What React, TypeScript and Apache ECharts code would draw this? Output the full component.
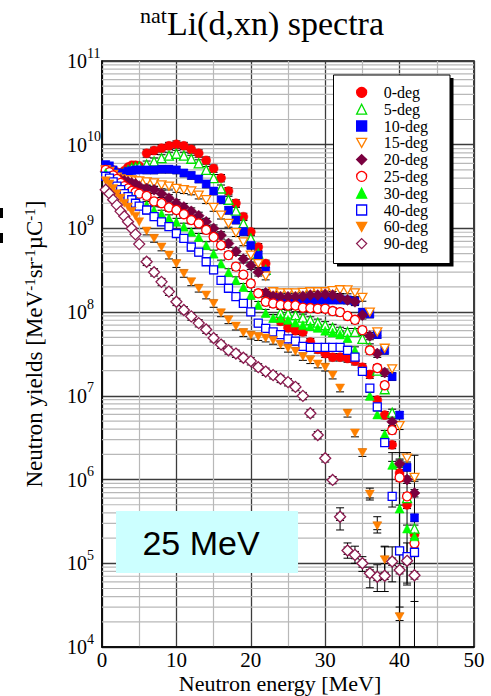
import React, { useEffect, useRef } from "react";
import * as echarts from "echarts";

// ---------- data ----------
const ENERGY = [0.5, 1, 1.5, 2, 2.5, 3, 3.5, 4, 4.5, 5, 6, 7, 8, 9, 10, 11, 12, 13, 14, 15, 16, 17, 18, 19, 20, 21, 22, 23, 24, 25, 26, 27, 28, 29, 30, 31, 32, 33, 34, 35, 36, 37, 38, 39, 40, 41, 42];

const DEG0 = [5.5e9, 5.3e9, 5.0e9, 4.7e9, 4.6e9, 4.9e9, 5.4e9, 5.7e9, 5.7e9, 5.6e9,
  7.9e9, 8.5e9, 9.1e9, 9.7e9, 1.01e10, 9.7e9, 8.8e9, 7.9e9, 6.5e9, 5.2e9,
  4.0e9, 2.8e9, 2.0e9, 1.38e9, 9.1e8, 6.0e8, 3.8e8, 1.6e8, 7.8e7, 6.5e7,
  6.0e7, 5.8e7, 4.4e7, 3.6e7, 3.2e7, 2.9e7, 2.9e7, 2.8e7, 2.6e7, 2.2e7,
  1.8e7, 8.9e6, 5.9e6, 2.6e6, 1.2e6, 5.0e5, 2.2e5];
const DEG5 = [5.3e9, 5.1e9, 4.8e9, 4.6e9, 4.5e9, 4.7e9, 5.0e9, 5.3e9, 5.4e9, 5.5e9,
  5.8e9, 6.3e9, 6.9e9, 7.4e9, 7.8e9, 7.4e9, 6.8e9, 6.0e9, 5.0e9, 4.0e9,
  3.0e9, 2.2e9, 1.63e9, 1.15e9, 7.6e8, 5.0e8, 3.2e8, 1.6e8, 9.8e7, 9.6e7,
  9.2e7, 8.6e7, 8.0e7, 7.5e7, 7.0e7, 6.5e7, 6.0e7, 5.8e7, 5.8e7, 4.8e7,
  3.8e7, 2.0e7, 1.2e7, 6.3e6, 1.6e6, 6.0e5, 2.6e5];
const DEG10 = [5.8e9, 5.6e9, 5.0e9, 4.6e9, 4.5e9, 4.6e9, 4.8e9, 4.9e9, 5.0e9, 5.0e9,
  5.0e9, 5.0e9, 5.1e9, 5.1e9, 5.0e9, 4.6e9, 4.3e9, 3.9e9, 3.4e9, 2.8e9,
  2.2e9, 1.65e9, 1.26e9, 9.2e8, 6.3e8, 4.8e8, 3.1e8, 1.5e8, 1.4e8, 1.4e8,
  1.4e8, 1.4e8, 1.4e8, 1.4e8, 1.4e8, 1.4e8, 1.4e8, 1.4e8, 1.35e8, 1.0e8,
  9.5e7, 5.4e7, 3.5e7, 1.7e7, 5.9e6, 1.4e6, 3.5e5];
const DEG15 = [5.0e9, 4.8e9, 4.4e9, 4.1e9, 3.9e9, 3.8e9, 3.8e9, 3.8e9, 3.7e9, 3.7e9,
  3.6e9, 3.5e9, 3.3e9, 3.2e9, 3.0e9, 2.9e9, 2.8e9, 2.5e9, 2.2e9, 1.78e9,
  1.44e9, 1.15e9, 8.9e8, 6.9e8, 4.8e8, 3.8e8, 2.7e8, 1.75e8, 1.7e8, 1.7e8,
  1.7e8, 1.72e8, 1.75e8, 1.75e8, 1.75e8, 1.8e8, 1.85e8, 1.84e8, 1.7e8, 1.5e8,
  1.0e8, 5.8e7, 3.7e7, 2.1e7, 4.4e6, 1.8e6, 1.06e6];
const DEG20 = [4.8e9, 4.5e9, 4.1e9, 3.9e9, 3.8e9, 3.7e9, 3.6e9, 3.5e9, 3.4e9, 3.2e9,
  3.0e9, 2.9e9, 2.6e9, 2.3e9, 2.0e9, 1.8e9, 1.6e9, 1.42e9, 1.2e9, 1.0e9,
  8.3e8, 6.6e8, 5.3e8, 4.3e8, 3.6e8, 3.0e8, 1.7e8, 1.55e8, 1.53e8, 1.53e8,
  1.53e8, 1.55e8, 1.6e8, 1.6e8, 1.64e8, 1.6e8, 1.5e8, 1.4e8, 1.33e8, 9.2e7,
  5.2e7, 3.2e7, 1.9e7, 4.9e6, 1.55e6, 1.0e6, 6.9e5];
const DEG25 = [5.0e9, 4.7e9, 4.3e9, 3.9e9, 3.5e9, 3.2e9, 3.0e9, 2.8e9, 2.7e9, 2.6e9,
  2.45e9, 2.1e9, 2.0e9, 1.78e9, 1.66e9, 1.48e9, 1.26e9, 1.15e9, 9.6e8, 7.9e8,
  6.3e8, 4.8e8, 3.5e8, 2.8e8, 2.2e8, 1.68e8, 1.33e8, 1.27e8, 1.22e8, 1.2e8,
  1.2e8, 1.13e8, 1.12e8, 1.1e8, 1.1e8, 1.03e8, 1.0e8, 9.0e7, 8.1e7, 6.1e7,
  3.5e7, 2.15e7, 1.34e7, 3.9e6, 1.06e6, 6.3e5, 1.73e5];
const DEG30 = [4.6e9, 4.2e9, 3.8e9, 3.4e9, 3.1e9, 2.8e9, 2.6e9, 2.4e9, 2.2e9, 2.0e9,
  1.9e9, 1.65e9, 1.5e9, 1.32e9, 1.2e9, 1.05e9, 9.1e8, 7.9e8, 6.3e8, 5.0e8,
  3.8e8, 3.0e8, 2.4e8, 2.0e8, 1.6e8, 1.22e8, 9.8e7, 8.5e7, 8.5e7, 8.1e7,
  7.5e7, 7.0e7, 6.8e7, 6.5e7, 6.0e7, 5.7e7, 5.4e7, 4.9e7, 3.5e7, 2.0e7,
  1.0e7, 6.0e6, 3.5e6, 1.5e6, 4.5e5, 2.6e5, 2.1e5];
const DEG40 = [4.2e9, 4.0e9, 3.6e9, 3.2e9, 2.9e9, 2.6e9, 2.4e9, 2.2e9, 2.0e9, 1.85e9,
  1.66e9, 1.38e9, 1.2e9, 1.05e9, 8.7e8, 7.6e8, 6.0e8, 5.2e8, 4.0e8, 3.2e8,
  2.4e8, 1.93e8, 1.53e8, 1.27e8, 1.01e8, 7.4e7, 6.4e7, 5.8e7, 5.4e7, 4.8e7,
  4.5e7, 3.9e7, 3.8e7, 3.8e7, 3.8e7, 3.8e7, 3.8e7, 3.5e7, 2.9e7, 1.96e7,
  1.24e7, 7.4e6, 2.76e6, 6.3e5, 1.41e5, 1.2e5, 1.35e5];
const DEG60 = [3.7e9, 3.4e9, 3.0e9, 2.6e9, 2.3e9, 2.0e9, 1.8e9, 1.6e9, 1.4e9, 1.2e9,
  9.3e8, 7.6e8, 6.0e8, 4.8e8, 3.8e8, 2.9e8, 2.3e8, 1.93e8, 1.6e8, 1.27e8,
  9.8e7, 8.1e7, 6.8e7, 5.7e7, 5.3e7, 5.1e7, 4.9e7, 4.6e7, 4.1e7, 3.7e7,
  3.4e7, 2.95e7, 2.7e7, 2.4e7, 2.2e7, 1.77e7, 1.24e7, 6.2e6, 3.6e6, 2.1e6,
  6.7e5, 2.8e5, 1.1e5, null, 2.3e4, null, null];
const DEG90 = [2.9e9, 2.6e9, 2.2e9, 1.9e9, 1.6e9, 1.4e9, 1.2e9, 1.0e9, 8.5e8, 6.5e8,
  4.0e8, 3.0e8, 2.3e8, 1.76e8, 1.33e8, 1.06e8, 8.9e7, 7.4e7, 6.2e7, 4.9e7,
  4.1e7, 3.5e7, 3.2e7, 2.85e7, 2.6e7, 2.2e7, 1.95e7, 1.77e7, 1.6e7, 1.46e7,
  1.28e7, 1.0e7, 6.2e6, 3.4e6, 1.8e6, 9.9e5, 3.6e5, 1.42e5, 1.26e5, 1.0e5,
  7.6e4, 6.9e4, 7.1e4, 1.05e5, 8.3e4, 1.07e5, 7.2e4];

const SERIES_NAMES = ["0-deg", "5-deg", "10-deg", "15-deg", "20-deg", "25-deg", "30-deg", "40-deg", "60-deg", "90-deg"];
const SERIES_VALUES = [DEG0, DEG5, DEG10, DEG15, DEG20, DEG25, DEG30, DEG40, DEG60, DEG90];

// explicit large error bars: [energy, low, high]
const BIG_ERRORS: number[][] = [
  [32, 2.5e5, 4.6e5], [33, 1.15e5, 1.75e5], [34, 1.0e5, 1.6e5], [35, 8.0e4, 1.2e5],
  [36, 5.1e4, 9.0e4], [37, 4.6e4, 9.6e4], [38, 4.6e4, 1.57e5], [39, 6.0e4, 1.57e5],
  [40, 3.0e4, 1.33e5], [41, 5.8e4, 1.75e5], [42, 3.5e4, 1.2e5],
  [36, 5.7e5, 7.9e5], [37, 2.3e5, 3.6e5], [38, 7.6e4, 1.6e5],
  [39, 4.7e5, 2.1e6], [40, 1, 2.1e6], [41, 5.5e4, 2.1e6], [42, 1, 1.95e6],
];
const ERR_FRACTION = 0.1;

const X_MIN = 0, X_MAX = 50, X_STEP = 10;
const Y_MIN = 1e4, Y_MAX = 1e11;
const Y_DECADES = [1e4, 1e5, 1e6, 1e7, 1e8, 1e9, 1e10];
const MINOR_MULT = [2, 3, 4, 5, 6, 7, 8, 9];

// ---------- styles ----------
const DOWN = "path://M0,0L10,0L5,9Z";
const STYLES = [
  { symbol: "circle", size: 9, color: "#FF0000", open: false },
  { symbol: "triangle", size: 9, color: "#00E000", open: true },
  { symbol: "rect", size: 8, color: "#0000FF", open: false },
  { symbol: DOWN, size: 9, color: "#FF8000", open: true },
  { symbol: "diamond", size: 11, color: "#7A003F", open: false },
  { symbol: "circle", size: 9, color: "#FF0000", open: true },
  { symbol: "triangle", size: 9, color: "#00FF00", open: false },
  { symbol: "rect", size: 8, color: "#0000FF", open: true },
  { symbol: DOWN, size: 9, color: "#FF8000", open: false },
  { symbol: "diamond", size: 11, color: "#8B1A4F", open: true },
];

const SERIF = "Liberation Serif";

export default function App() {
  const ref = useRef<HTMLDivElement>(null);
  useEffect(() => {
    if (!ref.current) return;
    const chart = echarts.init(ref.current, undefined, { renderer: "svg" });

    const minorY: number[][] = [];
    Y_DECADES.forEach((d) => MINOR_MULT.forEach((m) => minorY.push([X_MIN, d * m])));

    const errData: number[][] = [];
    SERIES_VALUES.forEach((vals) => {
      vals.forEach((v, i) => {
        if (v != null && i >= 10) errData.push([ENERGY[i], v * (1 - ERR_FRACTION), v * (1 + ERR_FRACTION)]);
      });
    });
    BIG_ERRORS.forEach((e) => errData.push(e));

    const scatter = SERIES_NAMES.map((name, k) => {
      const st = STYLES[k];
      const data: number[][] = [];
      SERIES_VALUES[k].forEach((v, i) => {
        if (v != null) data.push([ENERGY[i], v]);
      });
      return {
        name,
        type: "scatter",
        data,
        symbol: st.symbol,
        symbolSize: st.size,
        symbolKeepAspect: true,
        z: 3,
        silent: true,
        itemStyle: st.open
          ? { color: "#FFFFFF", borderColor: st.color, borderWidth: 1.3, opacity: 1 }
          : { color: st.color, borderColor: st.color, borderWidth: 0.5, opacity: 1 },
      };
    });

    const option: any = {
      animation: false,
      backgroundColor: "#FFFFFF",
      grid: {
        left: 102, right: 17, top: 61, bottom: 49,
        show: true, borderColor: "#000", borderWidth: 1.5,
        containLabel: false, outerBoundsMode: "none",
      },
      xAxis: {
        type: "value", min: X_MIN, max: X_MAX, interval: X_STEP,
        axisLine: { show: true, lineStyle: { color: "#000", width: 1.5 } },
        axisTick: { show: false },
        axisLabel: { fontFamily: SERIF, fontSize: 21, color: "#000", margin: 2 },
        splitLine: { show: true, lineStyle: { color: "#3c3c3c", width: 1.3 } },
        minorTick: { show: false, splitNumber: 2 },
        minorSplitLine: { show: true, lineStyle: { color: "#b8b8b8", width: 1.2 } },
      },
      yAxis: [
        {
          type: "log", logBase: 10, min: Y_MIN, max: Y_MAX, splitNumber: 7,
          axisLine: { show: true, lineStyle: { color: "#000", width: 1.5 } },
          axisTick: { show: false },
          axisLabel: {
            margin: 15, fontFamily: SERIF, fontSize: 20, lineHeight: 20, color: "#000",
            formatter: () => "10",
          },
          splitLine: { show: true, lineStyle: { color: "#3c3c3c", width: 1.3 } },
        },
        {
          type: "log", logBase: 10, min: Y_MIN, max: Y_MAX, splitNumber: 7, position: "left",
          axisLine: { show: false }, axisTick: { show: false }, splitLine: { show: false },
          axisLabel: {
            margin: 15, align: "left", verticalAlign: "bottom",
            fontFamily: SERIF, fontSize: 14, lineHeight: 14, color: "#000", padding: [0, 0, 1, 0],
            formatter: (v: number) => String(Math.round(Math.log10(v))),
          },
        },
      ],
      legend: {
        orient: "vertical", left: 334, top: 75, padding: [9, 0, 0, 22],
        itemWidth: 10, itemHeight: 10, itemGap: 0, z: 20,
        selectedMode: false,
        data: SERIES_NAMES,
        itemStyle: { borderWidth: 1.3 },
        textStyle: { fontFamily: SERIF, fontSize: 16, lineHeight: 16.8, color: "#000", padding: [0, 0, 0, 12] },
      },
      graphic: [
        { type: "rect", z: 14, shape: { x: 337, y: 78, width: 116.5, height: 188.5 }, style: { fill: "#000" } },
        { type: "rect", z: 15, shape: { x: 333.5, y: 75, width: 116.5, height: 188.5 }, style: { fill: "#fff", stroke: "#000", lineWidth: 1 } },
        { type: "rect", z: 15, shape: { x: 116, y: 511, width: 182, height: 62 }, style: { fill: "#CCFFFF" } },
        {
          type: "text", z: 16, x: 201, y: 543,
          style: { text: "25 MeV", fontFamily: "Liberation Sans", fontSize: 34, fill: "#000", align: "center", verticalAlign: "middle" },
        },
        {
          type: "text", z: 16, x: 280, y: 683,
          style: { text: "Neutron energy [MeV]", fontFamily: SERIF, fontSize: 22, fill: "#000", align: "center", verticalAlign: "middle" },
        },
        {
          type: "text", z: 16, x: 140, y: 4.5,
          style: {
            text: "{s|nat}{m|Li(d,xn) spectra}", align: "left", verticalAlign: "top", fill: "#000",
            rich: {
              s: { fontFamily: SERIF, fontSize: 22, lineHeight: 22, fill: "#000", verticalAlign: "top", padding: [0, 0, 20, 0] },
              m: { fontFamily: SERIF, fontSize: 34, lineHeight: 36, fill: "#000", verticalAlign: "bottom" },
            },
          },
        },
        {
          type: "text", z: 16, x: 34, y: 344, rotation: Math.PI / 2,
          style: {
            text: "{m|Neutron yields [MeV}{s|-1}{m|sr}{s|-1}{m|µC}{s|-1}{m|]}", align: "center", verticalAlign: "middle", fill: "#000",
            rich: {
              m: { fontFamily: SERIF, fontSize: 23, lineHeight: 24, fill: "#000", verticalAlign: "bottom" },
              s: { fontFamily: SERIF, fontSize: 15, lineHeight: 15, fill: "#000", verticalAlign: "top", padding: [0, 0, 16, 0] },
            },
          },
        },
        { type: "rect", z: 16, shape: { x: 0, y: 208, width: 3, height: 10 }, style: { fill: "#000" } },
        { type: "rect", z: 16, shape: { x: 0, y: 233, width: 3, height: 10 }, style: { fill: "#000" } },
      ],
      series: [
        {
          type: "custom", silent: true, z: 1, data: minorY, encode: { x: 0, y: 1 },
          renderItem: (_p: any, api: any) => {
            const v = api.value(1);
            const a = api.coord([X_MIN, v]);
            const b = api.coord([X_MAX, v]);
            return { type: "line", shape: { x1: a[0], y1: a[1], x2: b[0], y2: b[1] }, style: { stroke: "#b8b8b8", lineWidth: 1.2 } };
          },
        },
        {
          type: "custom", silent: true, z: 2, data: errData, encode: { x: 0, y: [1, 2] },
          renderItem: (_p: any, api: any) => {
            const x = api.value(0);
            const lo = api.value(1);
            const hi = api.value(2);
            const clamped = lo < Y_MIN;
            const pt = api.coord([x, Math.min(hi, Y_MAX)]);
            const pb = api.coord([x, clamped ? Y_MIN : lo]);
            const cw = 4;
            const style = { stroke: "#000", lineWidth: 1 };
            const children: any[] = [
              { type: "line", shape: { x1: pt[0], y1: pt[1], x2: pb[0], y2: pb[1] }, style },
              { type: "line", shape: { x1: pt[0] - cw, y1: pt[1], x2: pt[0] + cw, y2: pt[1] }, style },
            ];
            if (!clamped) children.push({ type: "line", shape: { x1: pb[0] - cw, y1: pb[1], x2: pb[0] + cw, y2: pb[1] }, style });
            return { type: "group", children };
          },
        },
        ...scatter,
      ],
    };
    chart.setOption(option);
    return () => chart.dispose();
  }, []);
  return <div ref={ref} style={{ position: "fixed", left: 0, top: 0, width: 491, height: 696, background: "#fff" }} />;
}
